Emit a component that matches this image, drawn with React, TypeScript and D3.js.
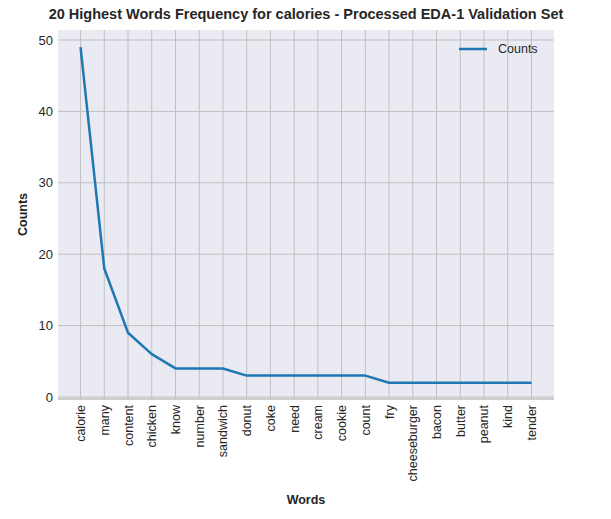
import React from "react";
import * as d3 from "d3";

const words = ["calorie","many","content","chicken","know","number","sandwich","donut","coke","need","cream","cookie","count","fry","cheeseburger","bacon","butter","peanut","kind","tender"];
const counts = [49,18,9,6,4,4,4,3,3,3,3,3,3,2,2,2,2,2,2,2];
const yTicks = [0,10,20,30,40,50];

export default function App() {
  const W = 611, H = 519;
  const L = 58, R = 554, T = 30, B = 399;
  const x = d3.scaleLinear().domain([-0.95, 19.95]).range([L, R]);
  const y = d3.scaleLinear().domain([0, 50]).range([397, 40]);
  const line = d3.line<number>().x((_, i) => x(i)).y(d => y(d));
  const font = "Arial, 'Liberation Sans', sans-serif";
  return (
    <svg width={W} height={H} style={{ position: "absolute", left: 0, top: 0 }} fontFamily={font}>
      <rect x={L} y={T} width={R - L} height={B - T} fill="#eaeaf2" />
      {words.map((w, i) => (
        <line key={w} x1={x(i)} x2={x(i)} y1={T} y2={B} stroke="#c0c0c0" strokeWidth={1} />
      ))}
      {yTicks.map(t => (
        <g key={t}>
          <line x1={L} x2={R} y1={y(t)} y2={y(t)} stroke="#c0c0c0" strokeWidth={1} />
          <text x={L - 5} y={y(t)} dy="0.35em" textAnchor="end" fontSize={13} fill="#262626">{t}</text>
        </g>
      ))}
      <line x1={L} x2={R} y1={B} y2={B} stroke="#c0c0c0" strokeWidth={1.5} />
      <path d={line(counts) || ""} fill="none" stroke="#1f77b4" strokeWidth={2.5} strokeLinejoin="round" />
      {words.map((w, i) => (
        <text key={w} transform={`translate(${x(i) + 4.5},${B + 6}) rotate(-90)`} textAnchor="end" fontSize={12.5} fill="#262626">{w}</text>
      ))}
      <line x1={459} x2={487} y1={49} y2={49} stroke="#1f77b4" strokeWidth={2.5} />
      <text x={498} y={49} dy="0.35em" fontSize={12.5} fill="#262626">Counts</text>
      <text x={306} y={19} textAnchor="middle" fontSize={14.5} fontWeight="bold" fill="#262626">20 Highest Words Frequency for calories - Processed EDA-1 Validation Set</text>
      <text x={306} y={504} textAnchor="middle" fontSize={12.5} fontWeight="bold" fill="#262626">Words</text>
      <text transform={`translate(27,${(T + B) / 2}) rotate(-90)`} textAnchor="middle" fontSize={12.5} fontWeight="bold" fill="#262626">Counts</text>
    </svg>
  );
}
